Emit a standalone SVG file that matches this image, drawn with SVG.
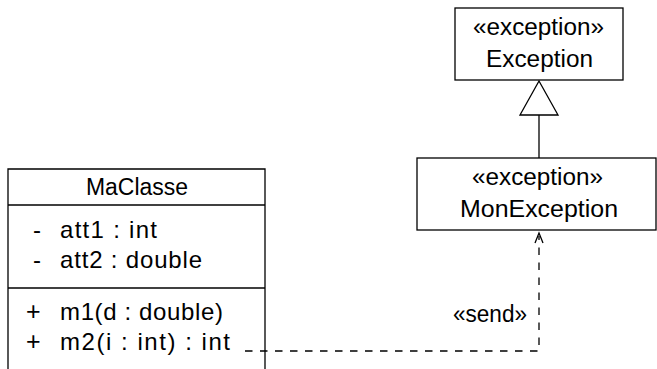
<svg xmlns="http://www.w3.org/2000/svg" width="657" height="369" viewBox="0 0 657 369">
<style>
.b{fill:#fff;stroke:#000;stroke-width:1.3}
.l{fill:none;stroke:#000;stroke-width:1.3}
.d{fill:none;stroke:#000;stroke-width:1.3;stroke-dasharray:7.5 7.5}
text{font-family:"Liberation Sans",Arial,sans-serif;font-size:23.5px;fill:#000}
.m{font-size:24px}
</style>
<g id="MaClasse">
<path class="l" d="M8,369 V169 H265 V369"/>
<line class="l" x1="8" y1="205" x2="265" y2="205"/>
<line class="l" x1="8" y1="288" x2="265" y2="288"/>
<text x="86" y="195" textLength="102" lengthAdjust="spacingAndGlyphs">MaClasse</text>
<text class="m" x="33" y="238">-</text><text class="m" x="60" y="238" textLength="97" lengthAdjust="spacing">att1 : int</text>
<text class="m" x="33" y="268">-</text><text class="m" x="60" y="268" textLength="142" lengthAdjust="spacing">att2 : double</text>
<text x="26" y="320" style="font-size:25px">+</text><text class="m" x="60" y="320" textLength="163" lengthAdjust="spacing">m1(d : double)</text>
<text x="26" y="350" style="font-size:25px">+</text><text class="m" x="60" y="350" textLength="170" lengthAdjust="spacing">m2(i : int) : int</text>
</g>
<g id="Exception">
<rect class="b" x="455" y="8" width="168" height="72"/>
<text x="473" y="35" textLength="131" lengthAdjust="spacingAndGlyphs">«exception»</text>
<text x="486" y="67" textLength="107" lengthAdjust="spacingAndGlyphs">Exception</text>
</g>
<g id="MonException">
<rect class="b" x="417" y="158" width="239" height="72"/>
<text x="472" y="185" textLength="131" lengthAdjust="spacingAndGlyphs">«exception»</text>
<text x="460" y="217" textLength="158" lengthAdjust="spacingAndGlyphs">MonException</text>
</g>
<g id="connectors">
<line class="l" x1="539" y1="115" x2="539" y2="158"/>
<polygon class="b" points="539,81 520,115 558,115"/>
<path class="d" d="M245,351 H539 V236"/>
<path class="l" d="M535,243 L539,233 L543,243"/>
<text x="453" y="322" textLength="74" lengthAdjust="spacingAndGlyphs">«send»</text>
</g>
</svg>
